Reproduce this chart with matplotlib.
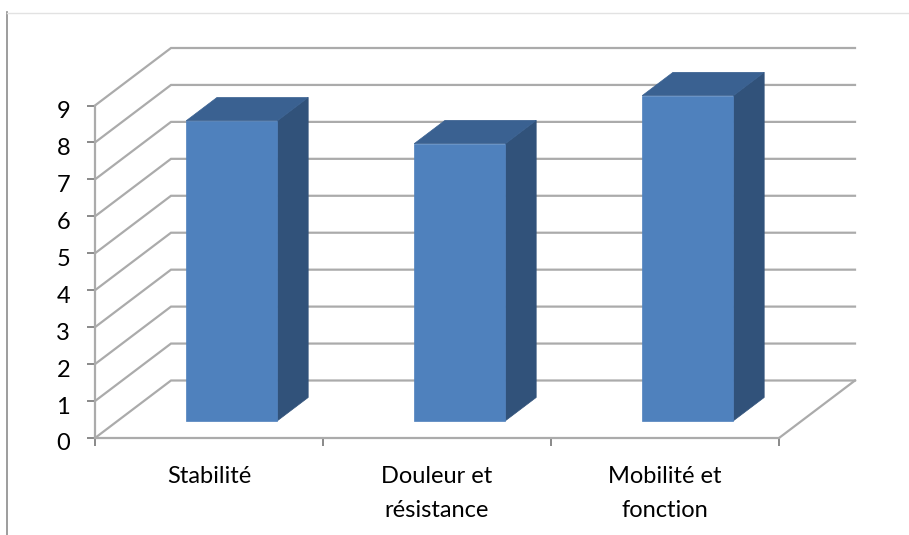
import matplotlib
matplotlib.use("Agg")
import matplotlib.pyplot as plt
from matplotlib.lines import Line2D
from matplotlib.transforms import ScaledTranslation

categories = ["Stabilité", "Douleur et\nrésistance", "Mobilité et\nfonction"]
values = [8.12, 7.5, 8.8]
y_ticks = [0, 1, 2, 3, 4, 5, 6, 7, 8, 9]

W, H = 909, 535
plt.rcParams["font.family"] = ["Lato", "DejaVu Sans"]
fig = plt.figure(figsize=(W / 100, H / 100), dpi=100, facecolor="white")
L, R, T, B = 95, 779, 105.5, 438
ax = fig.add_axes([L / W, 1 - B / H, (R - L) / W, (B - T) / H])
ax.set_xlim(0, len(categories))
ax.set_ylim(0, 9)
ax.patch.set_visible(False)
GRID = "#ABABAB"
DX = 76 / ((R - L) / 3)
DY = 57.5 / ((B - T) / 9)


def proj(x, y, d):
    return x + d * DX, y + d * DY


# walls and floor
for v in y_ticks:
    x0, y0 = proj(0, v, 0)
    x1, y1 = proj(0, v, 1)
    x2, y2 = proj(3, v, 1)
    ax.plot([x0, x1, x2], [y0, y1, y2], color=GRID, lw=1.6, clip_on=False,
            solid_joinstyle="miter", zorder=1)
x0, y0 = proj(3, 0, 0)
x1, y1 = proj(3, 0, 1)
ax.plot([x0, x1], [y0, y1], color=GRID, lw=1.6, clip_on=False, zorder=1)

# bars
d0, d1 = 0.3, 0.705
bw = 0.4
for i, v in enumerate(values):
    a, b = i + 0.5 - bw / 2, i + 0.5 + bw / 2
    front = [proj(a, 0, d0), proj(b, 0, d0), proj(b, v, d0), proj(a, v, d0)]
    side = [proj(b, 0, d0), proj(b, 0, d1), proj(b, v, d1), proj(b, v, d0)]
    top = [proj(a, v, d0), proj(b, v, d0), proj(b, v, d1), proj(a, v, d1)]
    ax.fill(*zip(*side), color="#31527A", lw=0.5, clip_on=False, zorder=3)
    ax.fill(*zip(*top), color="#3A6191", lw=0.5, clip_on=False, zorder=3)
    ax.fill(*zip(*front), color="#4F81BD", lw=0.5, clip_on=False, zorder=4)

for s in ("top", "right"):
    ax.spines[s].set_visible(False)
for s in ("left", "bottom"):
    ax.spines[s].set_color(GRID)
    ax.spines[s].set_linewidth(1.6)

ax.set_yticks(y_ticks)
ax.set_yticklabels([str(v) for v in y_ticks], fontsize=17, color="black")
ax.tick_params(axis="y", length=6, width=1.3, color="#808080", pad=12)
shift = ScaledTranslation(0, -4 / 100, fig.dpi_scale_trans)
for lab in ax.get_yticklabels():
    lab.set_transform(lab.get_transform() + shift)
ax.set_xticks(range(len(categories) + 1))
ax.set_xticklabels([""] * (len(categories) + 1))
ax.tick_params(axis="x", which="major", length=6, width=1.3, color="#808080")
ax.set_xticks([i + 0.5 for i in range(len(categories))], minor=True)
ax.set_xticklabels(categories, minor=True, fontsize=17, color="black",
                   linespacing=1.72)
ax.tick_params(axis="x", which="minor", length=0, pad=20.5)

# chart frame edges
fig.add_artist(Line2D([7 / W, 7 / W], [1 - 12 / H, 0], color="#8C8C8C", lw=1.2))
fig.add_artist(Line2D([7 / W, 1], [1 - 12.5 / H, 1 - 12.5 / H], color="#E2E2E2", lw=1.0))

fig.savefig("out.png", dpi=100)
